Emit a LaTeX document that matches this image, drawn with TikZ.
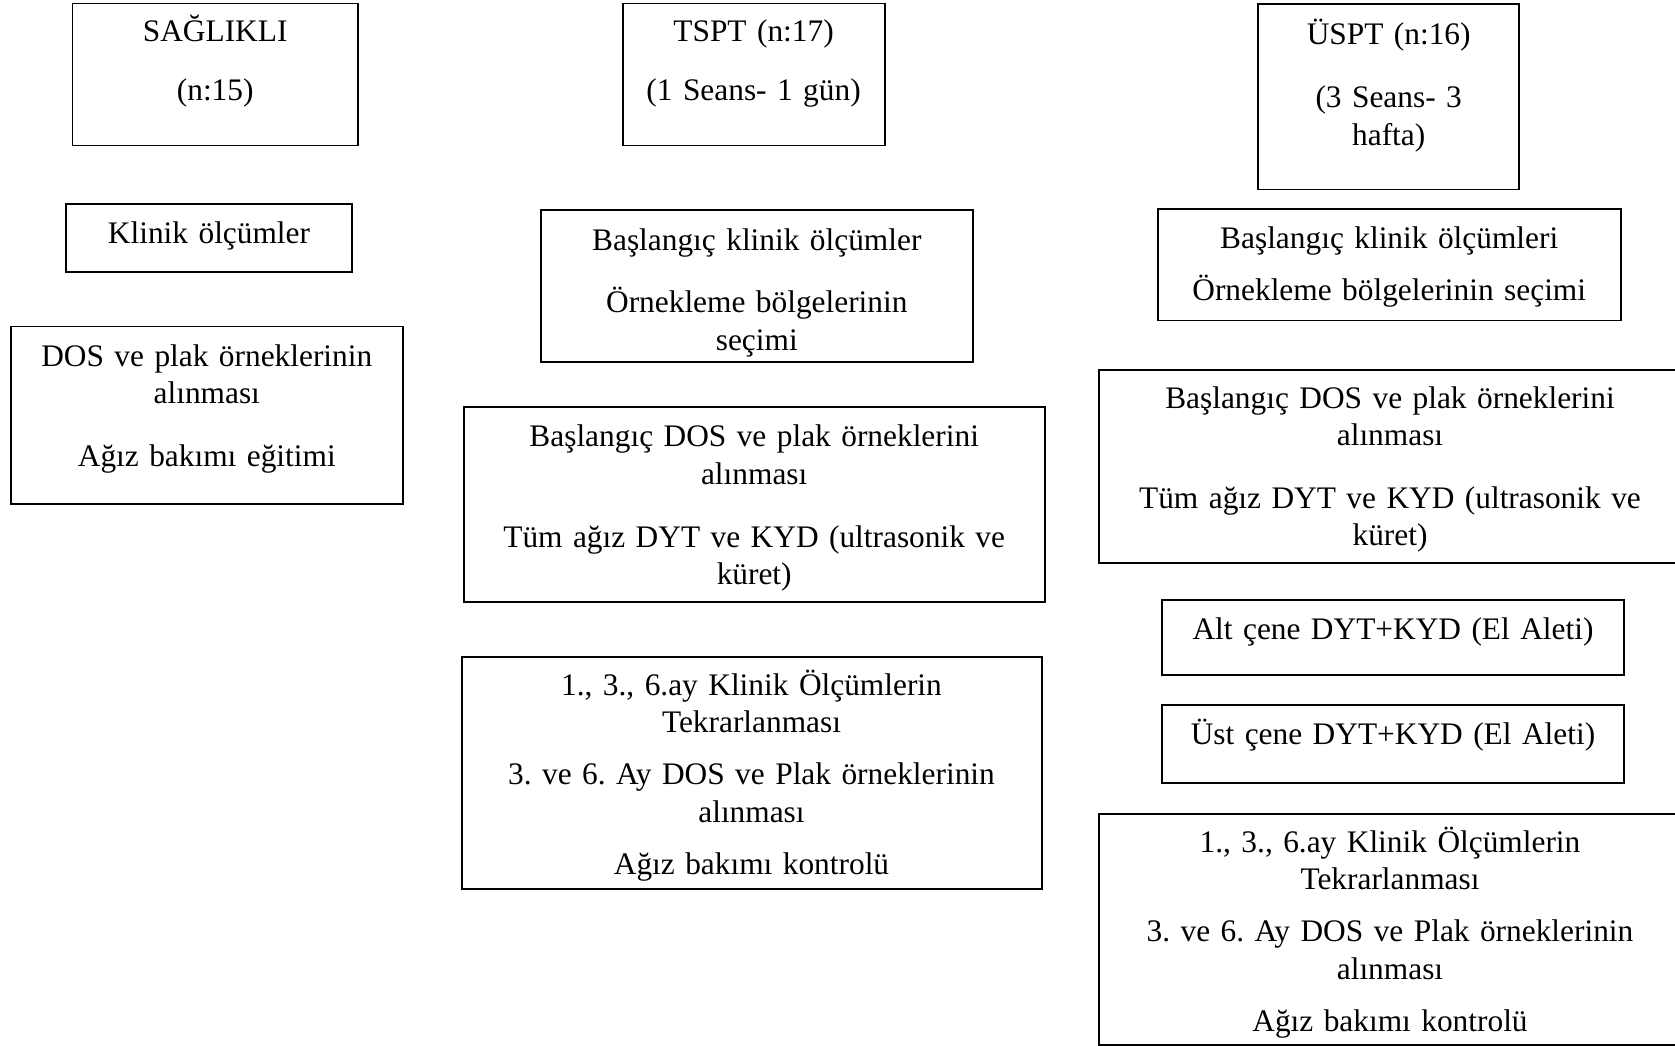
\documentclass[tikz,border=0pt]{standalone}
\usepackage{fontspec}
\setmainfont{Liberation Serif}
\frenchspacing

\begin{document}
\begin{tikzpicture}[x=0.3762pt, y=-0.3762pt,
    kutu/.style={draw, line width=0.75pt},
    yazi/.style={anchor=base, align=center, text width=200pt, inner sep=0pt,
      font=\fontsize{11.8pt}{14.07pt}\selectfont}]
  \useasboundingbox (0,0) rectangle (1675,1046);

  \draw[kutu] (72.5,3.5) rectangle (358,145.5);
  \node[yazi] (saglikli) at (215.2,42) {SAĞLIKLI\\[8.1pt](n:15)};
  \draw[kutu] (66,204) rectangle (352,272);
  \node[yazi] (sklinik) at (209,244) {Klinik ölçümler};
  \draw[kutu] (11,326.5) rectangle (402.7,504.3);
  \node[yazi] (sdos) at (206.8,366) {DOS ve plak örneklerinin\\alınması\\[9.6pt]Ağız bakımı eğitimi};

  \draw[kutu] (622.7,3.5) rectangle (884.5,145.5);
  \node[yazi] (tspt) at (753.6,42) {TSPT (n:17)\\[8.1pt](1 Seans- 1 gün)};
  \draw[kutu] (540.5,210.4) rectangle (973,362.2);
  \node[yazi] (tbaslangic) at (756.8,250) {Başlangıç klinik ölçümler\\[9.6pt]Örnekleme bölgelerinin\\seçimi};
  \draw[kutu] (463.6,407.2) rectangle (1044.7,601.5);
  \node[yazi] (tdos) at (754.2,446.7) {Başlangıç DOS ve plak örneklerini\\alınması\\[9.6pt]Tüm ağız DYT ve KYD (ultrasonik ve\\küret)};
  \draw[kutu] (461.5,657) rectangle (1041.5,888.8);
  \node[yazi] (ttekrar) at (751.5,695) {1., 3., 6.ay Klinik Ölçümlerin\\Tekrarlanması\\[5.7pt]3. ve 6. Ay DOS ve Plak örneklerinin\\alınması\\[5.7pt]Ağız bakımı kontrolü};

  \draw[kutu] (1258.4,4.3) rectangle (1519,189.5);
  \node[yazi] (uspt) at (1388.7,45) {ÜSPT (n:16)\\[9.6pt](3 Seans- 3\\hafta)};
  \draw[kutu] (1158,209.4) rectangle (1620.5,320.5);
  \node[yazi] (ubaslangic) at (1389.2,248) {Başlangıç klinik ölçümleri\\[5.7pt]Örnekleme bölgelerinin seçimi};
  \draw[kutu] (1099.2,369.6) rectangle (1681,563);
  \node[yazi] (udos) at (1390,408) {Başlangıç DOS ve plak örneklerini\\alınması\\[9.6pt]Tüm ağız DYT ve KYD (ultrasonik ve\\küret)};
  \draw[kutu] (1162.2,600.3) rectangle (1623.7,675.1);
  \node[yazi] (ualt) at (1393,639) {Alt çene DYT+KYD (El Aleti)};
  \draw[kutu] (1162.2,705) rectangle (1623.7,783);
  \node[yazi] (uust) at (1393,744) {Üst çene DYT+KYD (El Aleti)};
  \draw[kutu] (1099.2,814) rectangle (1681,1045);
  \node[yazi] (utekrar) at (1390,852) {1., 3., 6.ay Klinik Ölçümlerin\\Tekrarlanması\\[5.7pt]3. ve 6. Ay DOS ve Plak örneklerinin\\alınması\\[5.7pt]Ağız bakımı kontrolü};
\end{tikzpicture}
\end{document}
